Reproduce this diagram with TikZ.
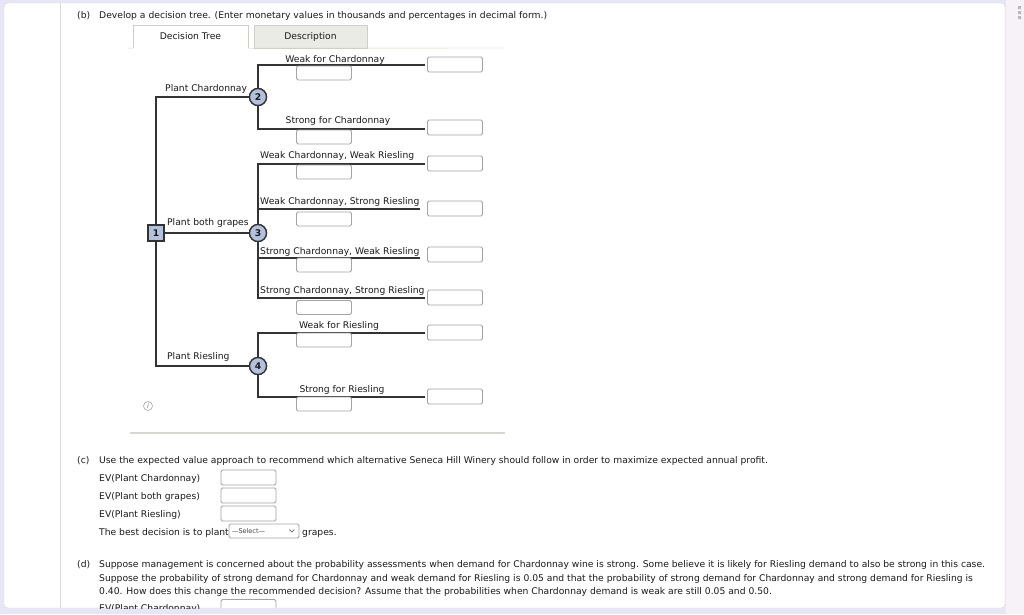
\documentclass[tikz,border=0pt]{standalone}
\usepackage{fontspec}
\setmainfont{DejaVu Sans}
\usetikzlibrary{positioning}

\definecolor{pagebg}{HTML}{E6E6F6}
\definecolor{sidebg}{HTML}{F6F2F7}
\definecolor{cardline}{HTML}{D9D9E2}
\definecolor{inkdark}{HTML}{333333}
\definecolor{nodefill}{HTML}{B3C1DC}
\definecolor{boxline}{HTML}{A3A3A3}
\definecolor{tabgray}{HTML}{EBEBE6}
\definecolor{tabline}{HTML}{CFCFC8}
\definecolor{rulegray}{HTML}{D6D6CE}
\definecolor{txt}{HTML}{1A1A1A}

\newcommand{\uifont}{\fontsize{9.2}{11}\selectfont}

\begin{document}
\begin{tikzpicture}[x=1pt, y=-1pt,
    every node/.style={font=\uifont, text=txt, inner sep=0pt},
    branch/.style={draw=inkdark, line width=1.8pt},
    decnode/.style={draw=inkdark, fill=nodefill, line width=1.3pt, minimum size=16pt, font=\uifont\bfseries},
    chancenode/.style={circle, draw=inkdark, fill=nodefill, line width=1.3pt, minimum size=17pt, font=\uifont\bfseries},
    inbox/.style={draw=boxline, fill=white, rounded corners=1.5pt, line width=0.8pt, minimum width=55pt, minimum height=14pt},
    txtw/.style={anchor=base west},
    txtc/.style={anchor=base}]

  \useasboundingbox (0,0) rectangle (1024,614);

  %% ===== PAGE =====
  \fill[pagebg] (0,0) rectangle (1024,614);
  \fill[sidebg] (1006,0) rectangle (1024,614);
  \fill[gray!55] (1018,6) rectangle (1021,9) (1018,11) rectangle (1021,14) (1018,16) rectangle (1021,19);
  \draw[cardline, fill=white, rounded corners=4pt] (4,3) rectangle (1005,608);
  \draw[cardline] (60,3) -- (60,608);

  \begin{scope}
  \clip[rounded corners=4pt] (4,3) rectangle (1005,608);

  %% ===== PART (b): HEADING AND TABS =====
  \node[txtw] (partb) at (77,18) {(b)};
  \node[txtw] (headb) at (99,18) {Develop a decision tree. (Enter monetary values in thousands and percentages in decimal form.)};

  \node[minimum width=115pt, minimum height=23pt] (tabtree) at (190.5,36.5) {Decision Tree};
  \node[draw=tabline, fill=tabgray, minimum width=113pt, minimum height=23pt] (tabdesc) at (310.5,36.5) {Description};
  \draw[tabline] (tabtree.south west) -- (tabtree.north west) -- (tabtree.north east) -- (tabtree.south east);
  \draw[tabline] (127,48) -- (tabtree.south west);
  \draw[tabline] (tabtree.south east) -- (505,48);

  %% ===== DECISION TREE =====
  % Decision node and chance nodes
  \node[decnode] (d1) at (156,233) {1};
  \node[chancenode] (c2) at (258,97) {2};
  \node[chancenode] (c3) at (258,233) {3};
  \node[chancenode] (c4) at (258,366) {4};

  % Branch end points
  \coordinate (e2a) at (425,65);
  \coordinate (e2b) at (425,129);
  \coordinate (e3a) at (425,164);
  \coordinate (e3b) at (420,209);
  \coordinate (e3c) at (420,258);
  \coordinate (e3d) at (425,298);
  \coordinate (e4a) at (425,333);
  \coordinate (e4b) at (425,397);

  % Decision branches
  \draw[branch] (d1.north) |- (c2.west);
  \draw[branch] (d1.east) -- (c3.west);
  \draw[branch] (d1.south) |- (c4.west);

  % Chance branches
  \draw[branch] (c2.north) |- (e2a);
  \draw[branch] (c2.south) |- (e2b);
  \draw[branch] (c3.north) |- (e3a);
  \draw[branch] (c3.north) |- (e3b);
  \draw[branch] (c3.south) |- (e3c);
  \draw[branch] (c3.south) |- (e3d);
  \draw[branch] (c4.north) |- (e4a);
  \draw[branch] (c4.south) |- (e4b);

  % Redraw nodes on top of branches
  \node[decnode] at (d1) {1};
  \node[chancenode] at (c2) {2};
  \node[chancenode] at (c3) {3};
  \node[chancenode] at (c4) {4};

  % Decision labels
  \node[txtw] (lchar) at (165,91) {Plant Chardonnay};
  \node[txtw] (lboth) at (167,225) {Plant both grapes};
  \node[txtw] (lries) at (167,359) {Plant Riesling};

  % Outcome labels
  \node[txtc] (o2a) at (335,62) {Weak for Chardonnay};
  \node[txtc] (o2b) at (338,123) {Strong for Chardonnay};
  \node[txtw] (o3a) at (260,158) {Weak Chardonnay, Weak Riesling};
  \node[txtw] (o3b) at (260,204) {Weak Chardonnay, Strong Riesling};
  \node[txtw] (o3c) at (260,254) {Strong Chardonnay, Weak Riesling};
  \node[txtw] (o3d) at (260,293) {Strong Chardonnay, Strong Riesling};
  \node[txtc] (o4a) at (339,328) {Weak for Riesling};
  \node[txtc] (o4b) at (342,392) {Strong for Riesling};

  % Probability boxes
  \node[inbox] (p2a) at (324,73) {};
  \node[inbox] (p2b) at (324,137) {};
  \node[inbox] (p3a) at (324,172) {};
  \node[inbox] (p3b) at (324,219) {};
  \node[inbox] (p3c) at (324,265) {};
  \node[inbox] (p3d) at (324,307.5) {};
  \node[inbox] (p4a) at (324,340) {};
  \node[inbox] (p4b) at (324,404) {};

  % Payoff boxes
  \node[inbox, minimum height=15pt] (v2a) at (455,64.5) {};
  \node[inbox, minimum height=15pt] (v2b) at (455,127.5) {};
  \node[inbox, minimum height=15pt] (v3a) at (455,163.5) {};
  \node[inbox, minimum height=15pt] (v3b) at (455,208.5) {};
  \node[inbox, minimum height=15pt] (v3c) at (455,254.5) {};
  \node[inbox, minimum height=15pt] (v3d) at (455,297.5) {};
  \node[inbox, minimum height=15pt] (v4a) at (455,332.5) {};
  \node[inbox, minimum height=15pt] (v4b) at (455,396.5) {};

  % Info icon and bottom rule
  \node[circle, draw=gray!70, line width=0.6pt, minimum size=9pt, font=\fontsize{7}{7}\selectfont\itshape, text=gray] (info) at (148,406) {i};
  \draw[rulegray, line width=1.2pt] (130,433) -- (505,433);

  %% ===== PART (c) =====
  \node[txtw] (partc) at (77,463) {(c)};
  \node[txtw] (headc) at (99,463) {Use the expected value approach to recommend which alternative Seneca Hill Winery should follow in order to maximize expected annual profit.};
  \node[txtw] (evc1) at (99,481) {EV(Plant Chardonnay)};
  \node[txtw] (evc2) at (99,499) {EV(Plant both grapes)};
  \node[txtw] (evc3) at (99,517) {EV(Plant Riesling)};
  \node[inbox, minimum height=15pt] (bc1) at (248.5,477.5) {};
  \node[inbox, minimum height=15pt] (bc2) at (248.5,495.5) {};
  \node[inbox, minimum height=15pt] (bc3) at (248.5,513.5) {};
  \node[txtw] (best) at (99,535) {The best decision is to plant};
  \node[inbox, minimum width=70pt, font=\fontsize{6.5}{7}\selectfont, text=black!75, align=left, text width=64pt] (sel) at (264,531) {---Select---};
  \draw[black!60, line width=0.6pt] ([xshift=-10pt,yshift=1.5pt]sel.east) -- ([xshift=-7.5pt,yshift=-1pt]sel.east) -- ([xshift=-5pt,yshift=1.5pt]sel.east);
  \node[txtw] (grapes) at (302,535) {grapes.};

  %% ===== PART (d) =====
  \node[txtw] (partd) at (77,567) {(d)};
  \node[txtw] (headd1) at (99,567) {Suppose management is concerned about the probability assessments when demand for Chardonnay wine is strong. Some believe it is likely for Riesling demand to also be strong in this case.};
  \node[txtw] (headd2) at (99,581) {Suppose the probability of strong demand for Chardonnay and weak demand for Riesling is 0.05 and that the probability of strong demand for Chardonnay and strong demand for Riesling is};
  \node[txtw] (headd3) at (99,594) {0.40. How does this change the recommended decision? Assume that the probabilities when Chardonnay demand is weak are still 0.05 and 0.50.};
  \node[txtw] (evd1) at (99,611) {EV(Plant Chardonnay)};
  \node[inbox, minimum height=15pt] (bd1) at (248.5,607) {};
  \end{scope}

\end{tikzpicture}
\end{document}
